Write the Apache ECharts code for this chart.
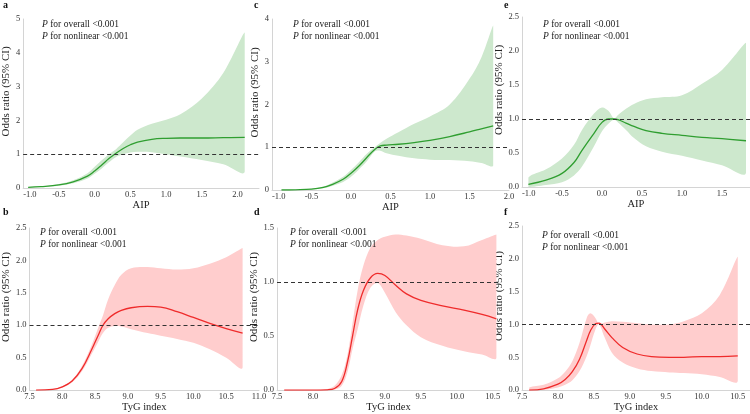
<!DOCTYPE html>
<html>
<head>
<meta charset="utf-8" />
<title>odds ratio</title>
<script src="https://cdn.jsdelivr.net/npm/echarts@6/dist/echarts.min.js"></script>
<style>
body { margin: 0; background: #fff; }
#main { width: 750px; height: 414px; }
</style>
</head>
<body>
<div id="main"></div>
<script type="text/javascript">
// a: AIP
var a_x  = [-0.93, -0.75, -0.5, -0.3, -0.1, 0.0, 0.1, 0.2, 0.3, 0.4, 0.5, 0.6, 0.8, 1.0, 1.2, 1.5, 1.8, 2.1];
var a_or = [0.02, 0.04, 0.09, 0.18, 0.35, 0.5, 0.68, 0.87, 1.03, 1.17, 1.28, 1.36, 1.44, 1.47, 1.48, 1.48, 1.49, 1.5];
var a_hi = [0.03, 0.05, 0.12, 0.23, 0.44, 0.63, 0.82, 1.0, 1.15, 1.35, 1.55, 1.72, 1.9, 2.02, 2.18, 2.65, 3.4, 4.6];
var a_lo = [0.015, 0.03, 0.07, 0.14, 0.28, 0.42, 0.58, 0.76, 0.92, 1.0, 1.05, 1.07, 1.06, 1.0, 0.93, 0.83, 0.7, 0.49];
// c: AIP
var c_x  = [-0.88, -0.7, -0.5, -0.35, -0.25, -0.1, 0.0, 0.1, 0.2, 0.3, 0.37, 0.45, 0.6, 0.8, 1.0, 1.25, 1.5, 1.65, 1.8];
var c_or = [0.0, 0.005, 0.02, 0.06, 0.12, 0.25, 0.39, 0.56, 0.76, 0.95, 1.03, 1.05, 1.07, 1.11, 1.16, 1.25, 1.36, 1.43, 1.5];
var c_hi = [0.005, 0.01, 0.03, 0.08, 0.16, 0.31, 0.47, 0.65, 0.85, 1.0, 1.1, 1.2, 1.35, 1.55, 1.72, 2.0, 2.6, 3.1, 3.85];
var c_lo = [0.0, 0.003, 0.01, 0.04, 0.09, 0.19, 0.31, 0.48, 0.67, 0.9, 0.92, 0.86, 0.8, 0.74, 0.71, 0.7, 0.67, 0.63, 0.58];
// e: AIP
var e_x  = [-0.92, -0.7, -0.5, -0.35, -0.25, -0.1, 0.0, 0.08, 0.15, 0.2, 0.3, 0.4, 0.55, 0.75, 1.0, 1.25, 1.5, 1.8];
var e_or = [0.04, 0.1, 0.2, 0.36, 0.54, 0.79, 0.95, 1.0, 1.0, 0.99, 0.94, 0.89, 0.83, 0.79, 0.76, 0.73, 0.71, 0.68];
var e_hi = [0.14, 0.26, 0.42, 0.62, 0.84, 1.08, 1.17, 1.12, 1.01, 1.06, 1.15, 1.22, 1.29, 1.32, 1.35, 1.52, 1.72, 2.12];
var e_lo = [0.0, 0.03, 0.07, 0.17, 0.3, 0.6, 0.82, 0.93, 0.99, 0.95, 0.84, 0.72, 0.6, 0.52, 0.46, 0.39, 0.32, 0.21];
// b: TyG
var b_x  = [7.6, 7.85, 8.0, 8.15, 8.3, 8.45, 8.55, 8.62, 8.7, 8.8, 8.9, 9.05, 9.3, 9.5, 9.75, 10.0, 10.25, 10.5, 10.75];
var b_or = [0.0, 0.01, 0.05, 0.14, 0.33, 0.63, 0.85, 1.0, 1.1, 1.18, 1.23, 1.27, 1.29, 1.28, 1.21, 1.12, 1.03, 0.95, 0.88];
var b_hi = [0.0, 0.015, 0.06, 0.16, 0.37, 0.7, 0.97, 1.15, 1.4, 1.62, 1.78, 1.88, 1.9, 1.88, 1.86, 1.88, 1.95, 2.05, 2.19];
var b_lo = [0.0, 0.005, 0.04, 0.12, 0.29, 0.56, 0.75, 0.88, 0.96, 0.99, 0.98, 0.94, 0.88, 0.84, 0.79, 0.73, 0.63, 0.5, 0.35];
// d: TyG
var d_x  = [7.6, 8.0, 8.2, 8.3, 8.4, 8.48, 8.55, 8.62, 8.7, 8.8, 8.9, 9.0, 9.15, 9.3, 9.5, 9.8, 10.1, 10.35, 10.55];
var d_or = [0.0, 0.0, 0.003, 0.015, 0.08, 0.26, 0.5, 0.74, 0.92, 1.04, 1.08, 1.06, 0.97, 0.89, 0.83, 0.78, 0.74, 0.7, 0.66];
var d_hi = [0.0, 0.0, 0.01, 0.04, 0.14, 0.33, 0.62, 0.92, 1.15, 1.32, 1.39, 1.42, 1.44, 1.43, 1.4, 1.34, 1.33, 1.39, 1.44];
var d_lo = [0.0, 0.0, 0.0, 0.005, 0.04, 0.17, 0.38, 0.56, 0.78, 0.95, 0.99, 0.9, 0.72, 0.6, 0.49, 0.41, 0.36, 0.33, 0.3];
// f: TyG
var f_x  = [7.6, 7.8, 8.0, 8.1, 8.2, 8.3, 8.4, 8.45, 8.52, 8.57, 8.65, 8.75, 8.9, 9.1, 9.3, 9.55, 9.75, 10.0, 10.25, 10.5];
var f_or = [0.0, 0.02, 0.09, 0.16, 0.28, 0.47, 0.76, 0.9, 1.01, 1.02, 0.93, 0.8, 0.65, 0.55, 0.51, 0.5, 0.5, 0.51, 0.51, 0.52];
var f_hi = [0.04, 0.08, 0.18, 0.28, 0.44, 0.72, 1.1, 1.17, 1.1, 1.01, 1.03, 1.05, 1.04, 1.02, 1.0, 1.0, 1.05, 1.17, 1.45, 2.03];
var f_lo = [0.0, 0.005, 0.04, 0.08, 0.15, 0.29, 0.52, 0.68, 0.92, 1.0, 0.8, 0.57, 0.42, 0.33, 0.29, 0.27, 0.26, 0.24, 0.2, 0.14];

var pText = '{i|P} for overall <0.001\n{i|P} for nonlinear <0.001';
var FONT = '"Liberation Serif", "Times New Roman", serif';
var GREEN = '#2f9e30', GREEN_BAND = '#cde8cd';
var RED = '#ef2b2b', RED_BAND = '#ffcdcd';

// panel layout: grid box, axis ranges
var panels = [
    {id: 'a', x: a_x, or: a_or, hi: a_hi, lo: a_lo, line: GREEN, band: GREEN_BAND, xname: 'AIP',
     left: 21, top: 19, width: 238, height: 169, xmin: -1, xmax: 2.3, ymax: 5, yint: 1, dec: 0,
     nameGapY: 8, nameGapX: 6, alignMin: 'left', maxLbl: false, px: 42, py: 19, lx: 3, ly: 0},
    {id: 'c', x: c_x, or: c_or, hi: c_hi, lo: c_lo, line: GREEN, band: GREEN_BAND, xname: 'AIP',
     left: 272, top: 19, width: 237, height: 171, xmin: -1, xmax: 2, ymax: 4, yint: 1, dec: 0,
     nameGapY: 5, nameGapX: 5, alignMin: 'left', maxLbl: true, px: 293, py: 19, lx: 254, ly: 0},
    {id: 'e', x: e_x, or: e_or, hi: e_hi, lo: e_lo, line: GREEN, band: GREEN_BAND, xname: 'AIP',
     left: 522, top: 17, width: 228, height: 170, xmin: -1, xmax: 1.85, ymax: 2.5, yint: 0.5, dec: 1,
     nameGapY: 7, nameGapX: 9, alignMin: 'left', maxLbl: false, px: 543, py: 19, lx: 504, ly: 0},
    {id: 'b', x: b_x, or: b_or, hi: b_hi, lo: b_lo, line: RED, band: RED_BAND, xname: 'TyG index',
     left: 21, top: 228, width: 238, height: 165, xmin: 7.5, xmax: 11, ymax: 2.5, yint: 0.5, dec: 1,
     nameGapY: 8, nameGapX: 7, alignMin: 'center', maxLbl: true, px: 40, py: 227, lx: 3, ly: 207},
    {id: 'd', x: d_x, or: d_or, hi: d_hi, lo: d_lo, line: RED, band: RED_BAND, xname: 'TyG index',
     left: 277, top: 228, width: 223, height: 165, xmin: 7.5, xmax: 10.6, ymax: 1.5, yint: 0.5, dec: 1,
     nameGapY: 10, nameGapX: 6, alignMin: 'center', maxLbl: false, px: 290, py: 227, lx: 254, ly: 207},
    {id: 'f', x: f_x, or: f_or, hi: f_hi, lo: f_lo, line: RED, band: RED_BAND, xname: 'TyG index',
     left: 522, top: 226, width: 228, height: 169, xmin: 7.5, xmax: 10.67, ymax: 2.5, yint: 0.5, dec: 1,
     nameGapY: 7, nameGapX: 6, alignMin: 'center', maxLbl: false, px: 542, py: 230, lx: 504, ly: 207}
];

var grids = [], xAxes = [], yAxes = [], series = [], titles = [];

panels.forEach(function (p, k) {
    grids.push({left: p.left, top: p.top, width: p.width, height: p.height});
    xAxes.push({
        type: 'value', gridIndex: k, min: p.xmin, max: p.xmax, interval: 0.5,
        name: p.xname, nameLocation: 'middle', nameGap: p.nameGapX,
        nameTextStyle: {fontFamily: FONT, fontSize: 10.5, color: '#222'},
        axisLine: {onZero: false, lineStyle: {color: '#d4d4d4', width: 1}},
        axisTick: {show: false},
        splitLine: {show: false},
        axisLabel: {
            fontFamily: FONT, fontSize: 8.5, color: '#333', margin: 2,
            showMaxLabel: p.maxLbl, alignMinLabel: p.alignMin,
            formatter: function (v) { return v.toFixed(1); }
        }
    });
    yAxes.push({
        type: 'value', gridIndex: k, min: 0, max: p.ymax, interval: p.yint,
        name: 'Odds ratio (95% CI)', nameLocation: 'middle', nameGap: p.nameGapY,
        nameTextStyle: {fontFamily: FONT, fontSize: 11, color: '#222', padding: [0, 0, 0, 24]},
        axisLine: {show: true, onZero: false, lineStyle: {color: '#d4d4d4', width: 1}},
        axisTick: {show: false},
        splitLine: {show: false},
        axisLabel: {
            fontFamily: FONT, fontSize: 8.5, color: '#333', margin: 3,
            formatter: (function (dec) { return function (v) { return v.toFixed(dec); }; })(p.dec)
        }
    });

    // confidence band
    series.push({
        type: 'custom', xAxisIndex: k, yAxisIndex: k, silent: true, z: 1,
        data: [[p.x[0], p.lo[0]]],
        renderItem: function (params, api) {
            var pts = [];
            for (var i = 0; i < p.x.length; i++) pts.push(api.coord([p.x[i], p.hi[i]]));
            for (var j = p.x.length - 1; j >= 0; j--) pts.push(api.coord([p.x[j], p.lo[j]]));
            var mn = [Infinity, Infinity], mx = [-Infinity, -Infinity];
            pts.forEach(function (q) {
                mn[0] = Math.min(mn[0], q[0]); mn[1] = Math.min(mn[1], q[1]);
                mx[0] = Math.max(mx[0], q[0]); mx[1] = Math.max(mx[1], q[1]);
            });
            return {
                type: 'polygon',
                shape: {points: pts, smooth: 0.35, smoothConstraint: [mn, mx]},
                style: {fill: p.band}
            };
        }
    });

    // odds ratio curve + reference line at 1
    series.push({
        type: 'line', xAxisIndex: k, yAxisIndex: k, z: 3, silent: true,
        smooth: 0.4, symbol: 'none',
        lineStyle: {color: p.line, width: 1.3},
        data: p.x.map(function (v, i) { return [v, p.or[i]]; }),
        markLine: {
            silent: true, symbol: 'none', label: {show: false},
            lineStyle: {color: '#333', width: 1, type: [4, 3]},
            data: [{yAxis: 1}]
        }
    });

    titles.push({
        text: pText, left: p.px, top: p.py, padding: 0,
        textStyle: {
            fontFamily: FONT, fontSize: 9.5, fontWeight: 'normal', color: '#222', lineHeight: 11.5,
            rich: {i: {fontFamily: FONT, fontSize: 9.5, fontStyle: 'italic', color: '#222', lineHeight: 11.5}}
        }
    });
    titles.push({
        text: p.id, left: p.lx, top: p.ly, padding: 0,
        textStyle: {fontFamily: FONT, fontSize: 10, fontWeight: 'bold', color: '#111'}
    });
});

var myChart = echarts.init(document.getElementById('main'), null, {renderer: 'canvas'});
myChart.setOption({
    animation: false,
    backgroundColor: '#fff',
    title: titles,
    grid: grids,
    xAxis: xAxes,
    yAxis: yAxes,
    series: series
});
</script>
</body>
</html>
